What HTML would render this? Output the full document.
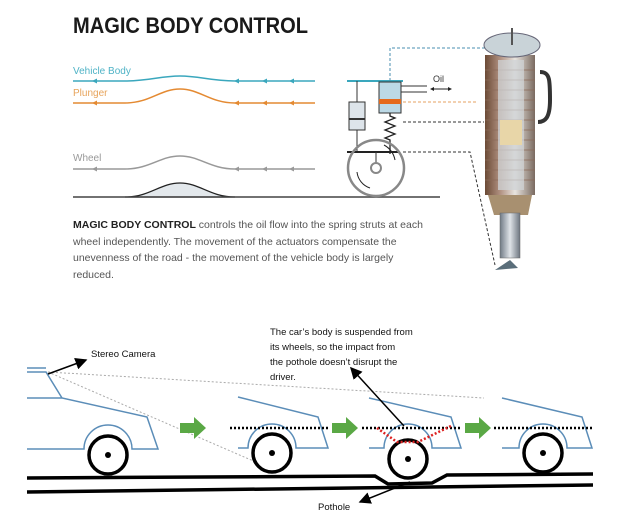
<!DOCTYPE html>
<html><head><meta charset="utf-8"><style>
html,body{margin:0;padding:0;background:#fff;}
svg{display:block;}
text{font-family:"Liberation Sans",sans-serif;}
</style></head><body>
<svg width="640" height="519" viewBox="0 0 640 519" xmlns="http://www.w3.org/2000/svg">
<defs>
<linearGradient id="st" x1="0" x2="1"><stop offset="0" stop-color="#6b4a35"/><stop offset="0.3" stop-color="#b09080"/><stop offset="0.6" stop-color="#e8e4df"/><stop offset="1" stop-color="#7a6a60"/></linearGradient>
<linearGradient id="rod" x1="0" x2="1"><stop offset="0" stop-color="#707a85"/><stop offset="0.5" stop-color="#dfe3e8"/><stop offset="1" stop-color="#6d7680"/></linearGradient>
<marker id="ah" markerWidth="8" markerHeight="8" refX="7" refY="4" orient="auto"><path d="M0,0 L8,4 L0,8 z" fill="#000"/></marker>
</defs>
<rect width="640" height="519" fill="#fff"/>
<text x="73" y="33" font-size="22" font-weight="bold" fill="#1a1a1a" textLength="235" lengthAdjust="spacingAndGlyphs">MAGIC BODY CONTROL</text>
<text x="73" y="74" font-size="10" fill="#4fb3c6">Vehicle Body</text>
<path d="M73,81 H125 C150,81 160,76 180,76 C200,76 210,81 235,81 H315" stroke="#3aa7bd" stroke-width="1.5" fill="none"/>
<text x="73" y="96" font-size="10" fill="#e7a35a">Plunger</text>
<path d="M73,103 H125 C150,103 160,89 180,89 C200,89 210,103 235,103 H315" stroke="#e48a32" stroke-width="1.5" fill="none"/>
<text x="73" y="161" font-size="10" fill="#999">Wheel</text>
<path d="M73,169 H125 C150,169 160,156 180,156 C200,156 210,169 235,169 H315" stroke="#999" stroke-width="1.5" fill="none"/>
<path d="M125,197 C150,197 160,183 180,183 C200,183 210,197 235,197 Z" fill="#e3e8ec" stroke="#222" stroke-width="1.3"/>
<line x1="73" y1="197" x2="440" y2="197" stroke="#444" stroke-width="1.5"/>
<g fill="#3aa7bd"><path d="M92,81 l5,-2.5 v5z"/><path d="M234,81 l5,-2.5 v5z"/><path d="M262,81 l5,-2.5 v5z"/><path d="M289,81 l5,-2.5 v5z"/></g>
<g fill="#e48a32"><path d="M92,103 l5,-2.5 v5z"/><path d="M234,103 l5,-2.5 v5z"/><path d="M262,103 l5,-2.5 v5z"/><path d="M289,103 l5,-2.5 v5z"/></g>
<g fill="#999"><path d="M92,169 l5,-2.5 v5z"/><path d="M234,169 l5,-2.5 v5z"/><path d="M262,169 l5,-2.5 v5z"/><path d="M289,169 l5,-2.5 v5z"/></g>
<line x1="347" y1="81" x2="403" y2="81" stroke="#3aa7bd" stroke-width="2"/>
<line x1="357" y1="81" x2="357" y2="152" stroke="#333" stroke-width="1"/>
<rect x="349" y="102" width="16" height="28" fill="#dde4ea" stroke="#333"/>
<line x1="349" y1="119" x2="365" y2="119" stroke="#333" stroke-width="2"/>
<rect x="379" y="82" width="22" height="31" fill="#bcd9e6" stroke="#333"/>
<rect x="379" y="99" width="22" height="5" fill="#e56a1c"/>
<path d="M401,86 H427 M401,92 H427" stroke="#333" stroke-width="1"/>
<path d="M390,113 v3 l5,2 -10,4 10,4 -10,4 10,4 -10,4 5,2 v14" stroke="#222" stroke-width="1.3" fill="none"/>
<line x1="347" y1="152" x2="400" y2="152" stroke="#222" stroke-width="2"/>
<circle cx="376" cy="168" r="28" fill="none" stroke="#888" stroke-width="2.5"/>
<line x1="376" y1="152" x2="376" y2="163" stroke="#333"/>
<circle cx="376" cy="168" r="5" fill="#fff" stroke="#888" stroke-width="2"/>
<path d="M357,172 A19,19 0 0 0 370,188" stroke="#222" fill="none"/>
<path d="M384,145 A22,22 0 0 1 395,160" stroke="#222" fill="none"/>
<text x="433" y="82" font-size="9" fill="#333">Oil</text>
<path d="M432,89 H450" stroke="#222"/><path d="M430,89 l4,-2 v4z M452,89 l-4,-2 v4z" fill="#222"/>
<path d="M390,81 V48 H490" stroke="#4a8fb0" stroke-dasharray="3,2" fill="none"/>
<path d="M403,102 H478" stroke="#e4a060" stroke-dasharray="3,2" fill="none"/>
<path d="M403,122 H484" stroke="#333" stroke-dasharray="3,2" fill="none"/>
<path d="M403,152 H470 L495,265" stroke="#333" stroke-dasharray="3,2" fill="none"/>
<rect x="485" y="55" width="50" height="140" fill="url(#st)"/>
<g stroke="#8a6a58" stroke-width="0.8"><path d="M485,70H535M485,80H535M485,90H535M485,100H535M485,110H535M485,120H535M485,130H535M485,140H535M485,150H535M485,160H535M485,170H535M485,180H535"/></g>
<rect x="498" y="60" width="26" height="130" fill="#cfd3d6" opacity="0.75"/>
<rect x="500" y="120" width="22" height="25" fill="#e8d6a8"/>
<path d="M488,195 L532,195 L528,215 L494,215 Z" fill="#a89070"/>
<rect x="500" y="213" width="20" height="45" fill="url(#rod)" stroke="#666" stroke-width="0.5"/>
<ellipse cx="512" cy="45" rx="28" ry="12" fill="#c9d3d8" stroke="#667" stroke-width="1"/>
<line x1="512" y1="28" x2="512" y2="45" stroke="#555" stroke-width="2"/>
<path d="M540,72 C550,72 550,80 550,100 C550,118 545,122 538,122" stroke="#333" stroke-width="4" fill="none"/>
<path d="M495,270 L510,260 L518,268 Z" fill="#5a6e7a"/>
<g font-size="10.5" fill="#555">
<text x="73" y="228"><tspan font-weight="bold" fill="#222">MAGIC BODY CONTROL</tspan> controls the oil flow into the spring struts at each</text>
<text x="73" y="245">wheel independently. The movement of the actuators compensate the</text>
<text x="73" y="261">unevenness of the road - the movement of the vehicle body is largely</text>
<text x="73" y="278">reduced.</text>
</g>
<g stroke="#aaa" stroke-width="1" stroke-dasharray="2,2" fill="none"><path d="M48,372 L484,398"/><path d="M48,372 L258,463"/></g>
<g stroke="#5b8db8" stroke-width="1.5" fill="none">
<path d="M27,368 H46 M27,372 H46 L62,398 L147,417 L158,449 H132 A24,24 0 0 0 84,449 H27 M27,398 H62"/>
<path d="M238,397 L318,417 L328,448 H296 A24,24 0 0 0 248,448 H238"/>
<path d="M369,398 L451,417 L461,448 H432 A24,24 0 0 0 384,448 H369"/>
<path d="M502,398 L582,417 L592,448 H567 A24,24 0 0 0 519,448 H502"/>
</g>
<g stroke="#000" stroke-width="3.5" fill="#fff">
<circle cx="108" cy="455" r="19"/><circle cx="272" cy="453" r="19"/><circle cx="408" cy="459" r="19"/><circle cx="543" cy="453" r="19"/>
</g>
<g fill="#000"><circle cx="108" cy="455" r="3"/><circle cx="272" cy="453" r="3"/><circle cx="408" cy="459" r="3"/><circle cx="543" cy="453" r="3"/></g>
<path d="M27,478 L375,476 L388,484 L432,483 L447,475 L593,474" stroke="#000" stroke-width="3.5" fill="none"/>
<path d="M27,492 L593,485" stroke="#000" stroke-width="3.5" fill="none"/>
<g stroke="#000" stroke-width="2.5" stroke-dasharray="2,2"><path d="M230,428 H330 M362,428 H462 M494,428 H592"/></g>
<path d="M377,428 L397,442 H418 L451,426" stroke="#d22" stroke-width="2.5" stroke-dasharray="2,2" fill="none"/>
<g fill="#5aa845"><path d="M180,423 h14 v-6 l12,11 -12,11 v-6 h-14z"/><path d="M332,423 h14 v-6 l12,11 -12,11 v-6 h-14z"/><path d="M465,423 h14 v-6 l12,11 -12,11 v-6 h-14z"/></g>
<path d="M48,374 L86,360" stroke="#000" stroke-width="1.5" marker-end="url(#ah)"/>
<path d="M404,426 L351,368" stroke="#000" stroke-width="1.5" marker-end="url(#ah)"/>
<path d="M410,482 L360,502" stroke="#000" stroke-width="1.5" marker-end="url(#ah)"/>
<g font-size="9.5" fill="#111">
<text x="91" y="357">Stereo Camera</text>
<text x="270" y="335">The car’s body is suspended from</text>
<text x="270" y="350">its wheels, so the impact from</text>
<text x="270" y="365">the pothole doesn’t disrupt the</text>
<text x="270" y="380">driver.</text>
<text x="318" y="510">Pothole</text>
</g>
</svg>
</body></html>
